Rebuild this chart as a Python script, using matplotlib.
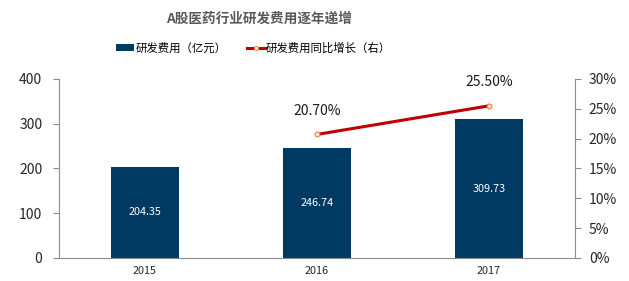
import numpy as np
import matplotlib as mpl
mpl.use('Agg')
import matplotlib.pyplot as plt
from matplotlib.patches import Patch
from matplotlib.lines import Line2D

plt.rcParams['font.family'] = ['Noto Sans CJK SC', 'DejaVu Sans']

# data
years = ['2015', '2016', '2017']
rd_cost = [204.35, 246.74, 309.73]          # 亿元
growth_years = ['2016', '2017']
growth_pct = [20.70, 25.50]                  # %

title = 'A股医药行业研发费用逐年递增'
bar_label = '研发费用（亿元）'
line_label = '研发费用同比增长（右）'

bar_color = '#003A63'
line_color = '#C00000'
axis_color = '#8C8C8C'

fig = plt.figure(figsize=(6.29, 2.81), dpi=100)
ax = fig.add_axes([0.0938, 0.082, 0.8202, 0.637])

x = np.arange(len(years))
ax.bar(x, rd_cost, width=0.4, color=bar_color, zorder=2)
for xi, v in zip(x, rd_cost):
    ax.text(xi, v / 2.0, '%.2f' % v, color='white', ha='center', va='center', fontsize=7.8)

ax.set_xlim(-0.5, 2.5)
ax.set_ylim(0, 400)
ax.set_yticks([0, 100, 200, 300, 400])
ax.set_xticks(x)
ax.set_xticklabels(years, fontsize=7.8)
ax.tick_params(axis='x', length=0, pad=6)
ax.tick_params(axis='y', labelsize=10, length=4, color=axis_color, pad=8)
for s in ['top', 'right']:
    ax.spines[s].set_visible(False)
for s in ['left', 'bottom']:
    ax.spines[s].set_color(axis_color)
    ax.spines[s].set_linewidth(0.8)

ax2 = ax.twinx()
gx = [years.index(y) for y in growth_years]
ax2.plot(gx, [g / 100.0 for g in growth_pct], color=line_color, lw=2.2,
         marker='o', markersize=3.5, markerfacecolor='#FBE5D6', markeredgecolor='#ED7D31',
         markeredgewidth=0.8, zorder=3)
for xi, g in zip(gx, growth_pct):
    ax2.text(xi, g / 100.0 + 0.028, '%.2f%%' % g, ha='center', va='bottom', fontsize=10, color='#1a1a1a')
ax2.set_ylim(0, 0.30)
ax2.set_yticks([0, 0.05, 0.10, 0.15, 0.20, 0.25, 0.30])
ax2.set_yticklabels(['0%', '5%', '10%', '15%', '20%', '25%', '30%'])
ax2.tick_params(axis='y', labelsize=10, length=4, color=axis_color, pad=6)
for s in ['top', 'left', 'bottom']:
    ax2.spines[s].set_visible(False)
ax2.spines['right'].set_color(axis_color)
ax2.spines['right'].set_linewidth(0.8)

for a in (ax, ax2):
    for lab in a.get_yticklabels() + a.get_xticklabels():
        lab.set_color('#262626')

fig.text(0.412, 0.935, title, ha='center', va='center', fontsize=9.8, fontweight='bold', color='#595959')

handles = [Patch(facecolor=bar_color, edgecolor='none'),
           Line2D([0], [0], color=line_color, lw=2.2, marker='o', markersize=3,
                  markerfacecolor='#FBE5D6', markeredgecolor='#ED7D31', markeredgewidth=0.6)]
fig.legend(handles, [bar_label, line_label], loc='center', bbox_to_anchor=(0.403, 0.83),
           ncol=2, frameon=False, fontsize=8.2, handlelength=1.6, handleheight=0.55,
           handletextpad=0.1, columnspacing=1.8)

fig.savefig('out.png', dpi=100)
